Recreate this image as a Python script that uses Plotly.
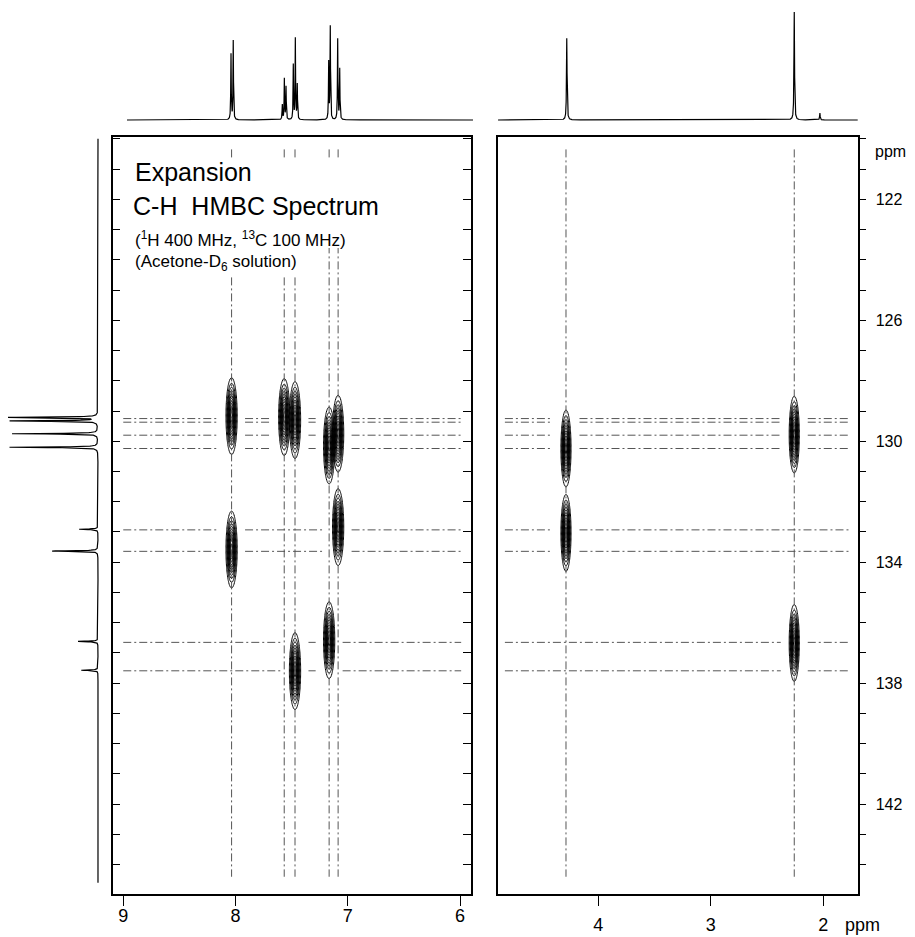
import numpy as np
import plotly.graph_objects as go

# page is offset by the default 8px body margin
OFF = 8
W, H = 915 - OFF, 937 - OFF

# ---------------- data ----------------
# 1H projection (top), left expansion: chemical shift (ppm) and relative height
H_LEFT_PPM = [8.041, 8.021, 7.584, 7.566, 7.551, 7.486, 7.468, 7.451, 7.171, 7.157, 7.091, 7.073]
H_LEFT_HT = [66, 79, 15, 41, 33, 55, 81, 35, 57, 93, 81, 51]
# 1H projection (top), right expansion
H_RIGHT_PPM = [4.280, 2.258, 2.030]
H_RIGHT_HT = [82, 108, 7]
# 13C projection (left side)
C_PPM = [129.21, 129.33, 129.75, 130.20, 132.91, 133.63, 136.62, 137.57]
C_HT = [90, 88, 87, 90, 19, 46, 20, 17]

# correlation guide lines
V_LEFT = [8.035, 7.566, 7.470, 7.166, 7.086]
V_RIGHT = [4.287, 2.258]
H_LINES = [129.25, 129.37, 129.80, 130.24, 132.93, 133.64, 136.65, 137.59]

# HMBC cross peaks (1H ppm, 13C ppm)
XP_LEFT_H = [8.035, 8.035, 7.566, 7.470, 7.166, 7.086, 7.086, 7.470, 7.166]
XP_LEFT_C = [129.17, 133.58, 129.20, 129.30, 130.14, 129.75, 132.84, 137.60, 136.58]
XP_RIGHT_H = [4.287, 4.287, 2.258, 2.258]
XP_RIGHT_C = [130.24, 133.03, 129.78, 136.67]

X_TICKS_LEFT = [9, 8, 7, 6]
X_TICKS_RIGHT = [4, 3, 2]
Y_TICKS = list(range(120, 145))
Y_LABELS = [122, 126, 130, 134, 138, 142]

# ---------------- geometry helpers (page pixels -> paper) ----------------
def px(x):
    return (x - OFF) / W

def py(y):
    return 1 - (y - OFF) / H

FONT = "Liberation Sans, Arial, sans-serif"
X1_RANGE = [9.094, 5.905]
X2_RANGE = [4.894, 1.694]
Y_RANGE = [144.97, 119.94]

fig = go.Figure()

# ---------------- guide lines ----------------
LINE_STYLE = dict(color="#555555", width=1, dash="8px,3px,2px,3px")


def hline_trace(peaks_h, peaks_c, x_from, x_to, xa, ya):
    xs, ys = [], []
    for yl in H_LINES:
        gaps = [(h - 0.12, h + 0.12) for h, c in zip(peaks_h, peaks_c) if abs(c - yl) < 1.5]
        cur = x_from  # walk from high ppm to low ppm
        for lo, hi in sorted(gaps, key=lambda g: -g[1]):
            if hi < cur:
                xs += [cur, hi, None]
                ys += [yl, yl, None]
            cur = min(cur, lo)
        if cur > x_to:
            xs += [cur, x_to, None]
            ys += [yl, yl, None]
    return go.Scatter(x=xs, y=ys, mode="lines", line=LINE_STYLE, xaxis=xa, yaxis=ya,
                      hoverinfo="skip", showlegend=False)


def vline_trace(vals, xa, ya):
    xs, ys = [], []
    for v in vals:
        xs += [v, v, None]
        ys += [120.35, 144.4, None]
    return go.Scatter(x=xs, y=ys, mode="lines", line=LINE_STYLE, xaxis=xa, yaxis=ya,
                      hoverinfo="skip", showlegend=False)


fig.add_trace(hline_trace(XP_LEFT_H, XP_LEFT_C, 9.0, 5.99, "x", "y"))
fig.add_trace(hline_trace(XP_RIGHT_H, XP_RIGHT_C, 4.83, 1.77, "x2", "y2"))
fig.add_trace(vline_trace(V_LEFT, "x", "y"))
fig.add_trace(vline_trace(V_RIGHT, "x2", "y2"))

# ---------------- cross peaks (contours) ----------------
def cross_peak(h0, c0, xa, ya, half_w=0.05, half_h=1.27):
    sx = half_w / 2.146
    sy = half_h / 2.146
    xs = np.linspace(h0 - 1.7 * half_w, h0 + 1.7 * half_w, 41)
    ys = np.linspace(c0 - 1.4 * half_h, c0 + 1.4 * half_h, 91)
    X, Y = np.meshgrid(xs, ys)
    Z = np.exp(-0.5 * ((X - h0) / sx) ** 2 - 0.5 * ((Y - c0) / sy) ** 2)
    return go.Contour(x=xs, y=ys, z=Z, xaxis=xa, yaxis=ya, showscale=False,
                      contours=dict(start=0.1, end=0.95, size=0.085, coloring="none"),
                      line=dict(color="black", width=1), hoverinfo="skip")


for h0, c0 in zip(XP_LEFT_H, XP_LEFT_C):
    fig.add_trace(cross_peak(h0, c0, "x", "y"))
for h0, c0 in zip(XP_RIGHT_H, XP_RIGHT_C):
    fig.add_trace(cross_peak(h0, c0, "x2", "y2", half_w=0.045))

# ---------------- 1D projections ----------------
def lorentz_sum(grid, centers, heights, hw):
    out = np.zeros_like(grid)
    for c, h in zip(centers, heights):
        out += h / (1 + ((grid - c) / hw) ** 2)
    return out

gx1 = np.linspace(8.967, 5.886, 7000)
fig.add_trace(go.Scatter(x=gx1, y=lorentz_sum(gx1, H_LEFT_PPM, H_LEFT_HT, 0.0025), mode="lines",
                         line=dict(color="black", width=1.2), xaxis="x3", yaxis="y3",
                         hoverinfo="skip", showlegend=False))
gx2 = np.linspace(4.891, 1.691, 7000)
fig.add_trace(go.Scatter(x=gx2, y=lorentz_sum(gx2, H_RIGHT_PPM, H_RIGHT_HT, 0.003), mode="lines",
                         line=dict(color="black", width=1.2), xaxis="x4", yaxis="y3",
                         hoverinfo="skip", showlegend=False))
gy = np.linspace(120.0, 144.6, 6000)
fig.add_trace(go.Scatter(x=lorentz_sum(gy, C_PPM, C_HT, 0.012), y=gy, mode="lines",
                         line=dict(color="black", width=1.2), xaxis="x5", yaxis="y",
                         hoverinfo="skip", showlegend=False))

# ---------------- axes ----------------
AX = dict(showgrid=False, zeroline=False, linecolor="black", linewidth=1.5,
          tickcolor="black", tickwidth=1.2)
DOM_X1 = [px(112.7), px(470.7)]
DOM_X2 = [px(497.7), px(857.7)]
DOM_Y = [py(894), py(137)]

fig.update_layout(
    width=W, height=H, margin=dict(l=0, r=0, t=0, b=0),
    paper_bgcolor="white", plot_bgcolor="white", showlegend=False,
    font=dict(family=FONT, color="black"),
    xaxis=dict(AX, domain=DOM_X1, range=X1_RANGE, anchor="y", tickvals=X_TICKS_LEFT,
               ticks="outside", ticklen=10, showline=True, mirror=True,
               tickfont=dict(size=18), ticklabelstandoff=-5),
    yaxis=dict(AX, domain=DOM_Y, range=Y_RANGE, anchor="x", tickvals=Y_TICKS,
               ticks="inside", ticklen=8, showline=True, mirror="ticks", showticklabels=False),
    xaxis2=dict(AX, domain=DOM_X2, range=X2_RANGE, anchor="y2", tickvals=X_TICKS_RIGHT,
                ticks="outside", ticklen=10, showline=True, mirror=True,
                tickfont=dict(size=18), ticklabelstandoff=4),
    yaxis2=dict(AX, domain=DOM_Y, range=Y_RANGE, anchor="x2", side="right", tickvals=Y_LABELS,
                ticks="outside", ticklen=7, showline=True, mirror=True,
                minor=dict(tickvals=Y_TICKS, ticks="outside", ticklen=7, tickcolor="black",
                           tickwidth=1.2, showgrid=False),
                tickfont=dict(size=16), ticklabelstandoff=6),
    yaxis4=dict(AX, overlaying="y2", anchor="x2", side="left", range=Y_RANGE, tickvals=Y_TICKS,
                ticks="inside", ticklen=8, showline=False, showticklabels=False),
    xaxis6=dict(AX, overlaying="x", anchor="y", side="top", range=X1_RANGE, tickvals=X_TICKS_LEFT,
                ticks="inside", ticklen=8, showline=False, showticklabels=False),
    xaxis3=dict(domain=[px(127), px(473)], range=[8.967, 5.886], anchor="y3", visible=False),
    xaxis4=dict(domain=DOM_X2, range=X2_RANGE, anchor="y3", visible=False),
    yaxis3=dict(domain=[py(122), py(8)], range=[-2, 112], anchor="x3", visible=False),
    xaxis5=dict(domain=[0, px(101)], range=[90, -3], anchor="y", visible=False),
)

# mask behind the title block (hides the guide lines there)
for x0, x1, y0, y1 in [(128, 396, 158, 248), (128, 326, 248, 276)]:
    fig.add_shape(type="rect", xref="paper", yref="paper", x0=px(x0), x1=px(x1),
                  y0=py(y1), y1=py(y0), fillcolor="white", line=dict(width=0), layer="above")

# ---------------- text ----------------
def note(text, x, y, size, anchor="left"):
    fig.add_annotation(text=text, xref="paper", yref="paper", x=px(x), y=py(y),
                       xanchor=anchor, yanchor="middle", showarrow=False,
                       font=dict(family=FONT, size=size, color="black"))

note("Expansion", 133, 172, 25)
note("C-H\u00a0\u00a0HMBC Spectrum", 131, 206, 25)
note("(<sup>1</sup>H 400 MHz, <sup>13</sup>C 100 MHz)", 133, 239, 17)
note("(Acetone-D<sub>6</sub> solution)", 133, 263, 17)
note("ppm", 890, 152, 16, "center")
note("ppm", 862, 925, 18, "center")

fig.write_html("out.html")
